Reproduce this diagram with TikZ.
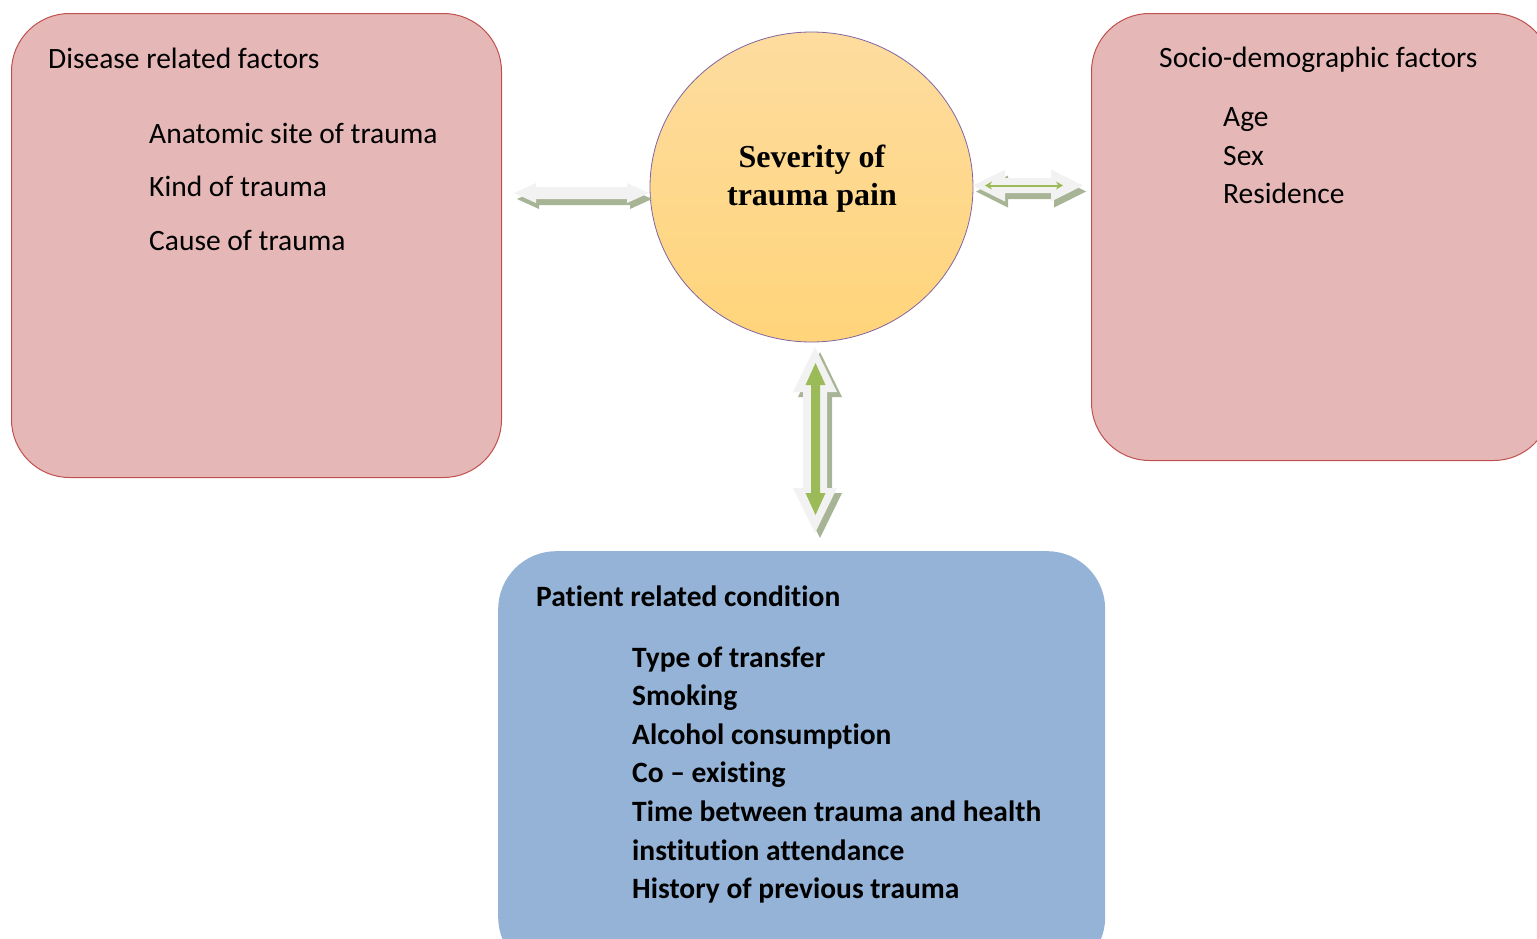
\documentclass[tikz,border=0pt]{standalone}
\usepackage{fontspec}
\setmainfont[Ligatures=NoCommon]{Carlito}
\newfontfamily\sevfont{Liberation Serif}
\usetikzlibrary{shapes.geometric,arrows.meta}
\definecolor{pinkfill}{HTML}{E5B8B7}
\definecolor{pinkline}{HTML}{C0504D}
\definecolor{bluefill}{HTML}{95B3D7}
\definecolor{circtop}{HTML}{FDDC9F}
\definecolor{circbot}{HTML}{FFD47A}
\definecolor{circline}{HTML}{8064A2}
\definecolor{arrlight}{HTML}{F2F2F2}
\definecolor{arrshadow}{HTML}{A8B496}
\definecolor{arrgreen}{HTML}{9BBB59}
% #1 start (left tip), #2 length, #3 head length, #4 head half width, #5 shaft half width, #6 style
\newcommand{\hfatarrow}[6]{\fill[#6] (#1) -- ++(#3,-#4) -- ++(0,#4-#5) -- ++(#2-2*#3,0) -- ++(0,#5-#4) -- ++(#3,#4) -- ++(-#3,#4) -- ++(0,#5-#4) -- ++(-#2+2*#3,0) -- ++(0,#4-#5) -- cycle;}
% #1 start (top tip), #2 length, #3 head length, #4 head half width, #5 shaft half width, #6 style
\newcommand{\vfatarrow}[6]{\fill[#6] (#1) -- ++(#4,#3) -- ++(#5-#4,0) -- ++(0,#2-2*#3) -- ++(#4-#5,0) -- ++(-#4,#3) -- ++(-#4,-#3) -- ++(#4-#5,0) -- ++(0,-#2+2*#3) -- ++(#5-#4,0) -- cycle;}
\begin{document}
\begin{tikzpicture}[x=1pt,y=-1pt,
  factorbox/.style={fill=pinkfill,draw=pinkline,line width=1pt,rounded corners=58pt,inner sep=0pt,anchor=north west},
  patientbox/.style={fill=bluefill,rounded corners=58pt,inner sep=0pt,anchor=north west},
  txt/.style={anchor=base west,inner sep=0pt,font=\fontsize{29.5}{35}\selectfont},
  btxt/.style={anchor=base west,inner sep=0pt,font=\fontsize{29.5}{35}\selectfont\bfseries},
  sevtxt/.style={anchor=base,inner sep=0pt,font=\fontsize{32}{38}\selectfont\sevfont\bfseries},
]
\useasboundingbox (0,0) rectangle (1537,938);
\clip (0,0) rectangle (1537,938);

% boxes
\node[factorbox,minimum width=490pt,minimum height=464pt] (dis) at (11,13) {};
\node[factorbox,minimum width=460pt,minimum height=447pt] (soc) at (1091,13) {};
\node[patientbox,minimum width=607pt,minimum height=424pt] (pat) at (498,551) {};
\node[ellipse,minimum width=323pt,minimum height=310pt,inner sep=0pt,draw=circline,line width=0.8pt,top color=circtop,bottom color=circbot] (sev) at (811.5,187) {};

% texts
\node[sevtxt] (sev1) at (812,167) {Severity of};
\node[sevtxt] (sev2) at (812,205) {trauma pain};

\node[txt] (d0) at (48,68) {Disease related factors};
\node[txt] (d1) at (149,143) {Anatomic site of trauma};
\node[txt] (d2) at (149,196) {Kind of trauma};
\node[txt] (d3) at (149,250) {Cause of trauma};

\node[txt] (s0) at (1159,67) {Socio-demographic factors};
\node[txt] (s1) at (1223,126) {Age};
\node[txt] (s2) at (1223,165) {Sex};
\node[txt] (s3) at (1223,203) {Residence};

\node[btxt] (p0) at (536,606) {Patient related condition};
\node[btxt] (p1) at (632,667) {Type of transfer};
\node[btxt] (p2) at (632,705) {Smoking};
\node[btxt] (p3) at (632,744) {Alcohol consumption};
\node[btxt] (p4) at (632,782) {Co -- existing};
\node[btxt] (p5) at (632,821) {Time between trauma and health};
\node[btxt] (p6) at (632,860) {institution attendance};
\node[btxt] (p7) at (632,898) {History of previous trauma};

% arrow anchor points
\coordinate (la) at (514,193);
\coordinate (ra) at (973,185.5);
\coordinate (va) at (815,347);
\coordinate (vg) at (815.5,363);
\coordinate (rg1) at (985,185.5);
\coordinate (rg2) at (1063,185.5);

% left double arrow
\hfatarrow{[shift={(3,6)}]la}{135}{22}{10}{6}{arrshadow}
\hfatarrow{la}{135}{22}{10}{6}{arrlight}

% right double arrow
\hfatarrow{[shift={(3,6)}]ra}{110}{32}{16}{7.5}{arrshadow}
\hfatarrow{ra}{110}{32}{16}{7.5}{arrlight}
\draw[arrgreen,line width=2pt,{Stealth[length=7pt,width=8pt]}-{Stealth[length=7pt,width=8pt]}] (rg1) -- (rg2);

% vertical double arrow
\vfatarrow{[shift={(5,5)}]va}{186}{45}{22}{12}{arrshadow}
\vfatarrow{va}{186}{45}{22}{12}{arrlight}
\vfatarrow{vg}{152}{22}{10}{4.5}{arrgreen}
\end{tikzpicture}
\end{document}
